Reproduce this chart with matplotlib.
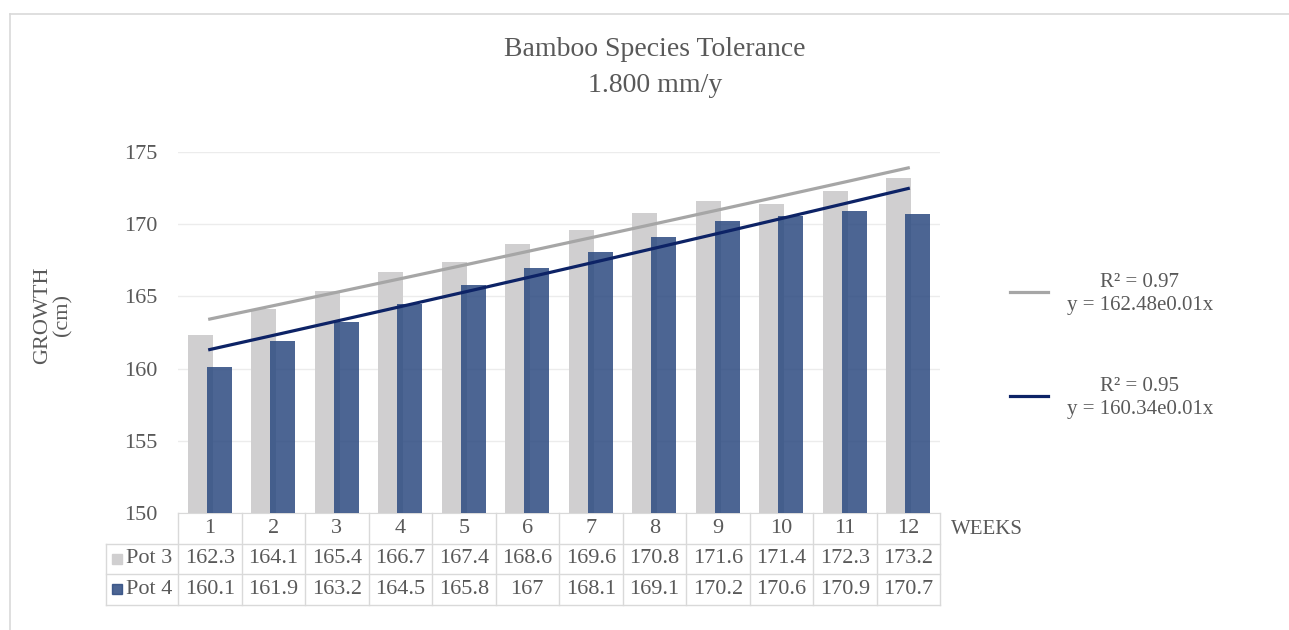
import numpy as np
import matplotlib.pyplot as plt
from matplotlib.lines import Line2D

plt.rcParams['font.family'] = ['Liberation Serif', 'DejaVu Serif']

weeks = [1, 2, 3, 4, 5, 6, 7, 8, 9, 10, 11, 12]
pot3 = [162.3, 164.1, 165.4, 166.7, 167.4, 168.6, 169.6, 170.8, 171.6, 171.4, 172.3, 173.2]
pot4 = [160.1, 161.9, 163.2, 164.5, 165.8, 167, 168.1, 169.1, 170.2, 170.6, 170.9, 170.7]
pot3_txt = ['162.3', '164.1', '165.4', '166.7', '167.4', '168.6', '169.6', '170.8', '171.6', '171.4', '172.3', '173.2']
pot4_txt = ['160.1', '161.9', '163.2', '164.5', '165.8', '167', '168.1', '169.1', '170.2', '170.6', '170.9', '170.7']
series_names = ['Pot 3', 'Pot 4']
trend_labels = ['R\u00b2 = 0.97\ny = 162.48e0.01x', 'R\u00b2 = 0.95\ny = 160.34e0.01x']
yticks = [150, 155, 160, 165, 170, 175]

c_pot3 = '#d0cfd0'
c_pot4 = '#2c4a80'
c_tr3 = '#a6a6a6'
c_tr4 = '#0d2366'
txt = '#595959'
grid = '#d9d9d9'

fig = plt.figure(figsize=(12.89, 6.3), dpi=100)
ax = fig.add_axes([178/1289, 117/630, 762/1289, 361/630])

x = np.array(weeks)
ax.bar(x - 0.15, pot3, width=0.39, color=c_pot3, zorder=2)
ax.bar(x + 0.15, pot4, width=0.39, color=c_pot4, alpha=0.85, zorder=3)

# exponential trendlines (excel style)
for vals, col in [(pot3, c_tr3), (pot4, c_tr4)]:
    b, lna = np.polyfit(x, np.log(vals), 1)
    ax.plot(x, np.exp(lna) * np.exp(b * x), color=col, lw=2.3, zorder=4)

ax.set_xlim(0.5, 12.5)
ax.set_ylim(150, 175)
ax.set_yticks(yticks)
ax.set_xticks([])
ax.tick_params(axis='y', length=0, labelsize=16, labelcolor=txt, pad=15)
ax.grid(axis='y', color='#ececec', lw=1, zorder=0)
for s in ['top', 'right', 'left']:
    ax.spines[s].set_visible(False)
ax.spines['bottom'].set_color(grid)

fig.text(53/1289, 1 - 315/630, 'GROWTH\n(cm)', rotation=90, ha='center', va='center',
         fontsize=16, color=txt, multialignment='center', linespacing=1.05)

# data table under the axis
tr = ax.get_xaxis_transform()
rh = 30.5 / 361
left = 0.5 - 72 / 63.5
for i in range(13):
    ax.add_line(Line2D([0.5 + i, 0.5 + i], [0, -3 * rh], transform=tr, color=grid, lw=1, clip_on=False))
ax.add_line(Line2D([left, left], [-rh, -3 * rh], transform=tr, color=grid, lw=1, clip_on=False))
for k in range(1, 4):
    ax.add_line(Line2D([left, 12.5], [-k * rh, -k * rh], transform=tr, color=grid, lw=1, clip_on=False))

for i, w in enumerate(weeks):
    ax.text(w, -0.5 * rh, str(w), transform=tr, ha='center', va='center', fontsize=16, color=txt)
    ax.text(w, -1.5 * rh, pot3_txt[i], transform=tr, ha='center', va='center', fontsize=16, color=txt)
    ax.text(w, -2.5 * rh, pot4_txt[i], transform=tr, ha='center', va='center', fontsize=16, color=txt)

for k, (name, col, a) in enumerate([(series_names[0], c_pot3, 1), (series_names[1], c_pot4, 0.85)]):
    yy = -(1.5 + k) * rh
    ax.plot([left + 0.17], [yy], marker='s', ms=7, color=col, alpha=a, transform=tr, clip_on=False)
    ax.text(left + 0.31, yy, name, transform=tr, ha='left', va='center', fontsize=16, color=txt)

ax.text(12.68, -0.55 * rh, 'WEEKS', transform=tr, ha='left', va='center', fontsize=15, color=txt)

# title
fig.text(655/1289, 1 - 50/630, 'Bamboo Species Tolerance', ha='center', va='center', fontsize=20, color=txt)
fig.text(655/1289, 1 - 86/630, '1.800 mm/y', ha='center', va='center', fontsize=20, color=txt)

# trendline legend
for k, (lab, col) in enumerate(zip(trend_labels, [c_tr3, c_tr4])):
    ly = 1 - (292 + 104 * k) / 630
    fig.add_artist(Line2D([1010/1289, 1048/1289], [ly, ly], color=col, lw=2.3))
    fig.text(1140/1289, ly - 2/630, lab, ha='center', va='center', fontsize=15, color=txt,
             multialignment='center', linespacing=1.3)

# chart frame
fig.add_artist(Line2D([10/1289, 1], [1 - 14/630, 1 - 14/630], color=grid, lw=1.2))
fig.add_artist(Line2D([10/1289, 10/1289], [0, 1 - 14/630], color=grid, lw=1.2))

fig.savefig('out.png', dpi=100)
